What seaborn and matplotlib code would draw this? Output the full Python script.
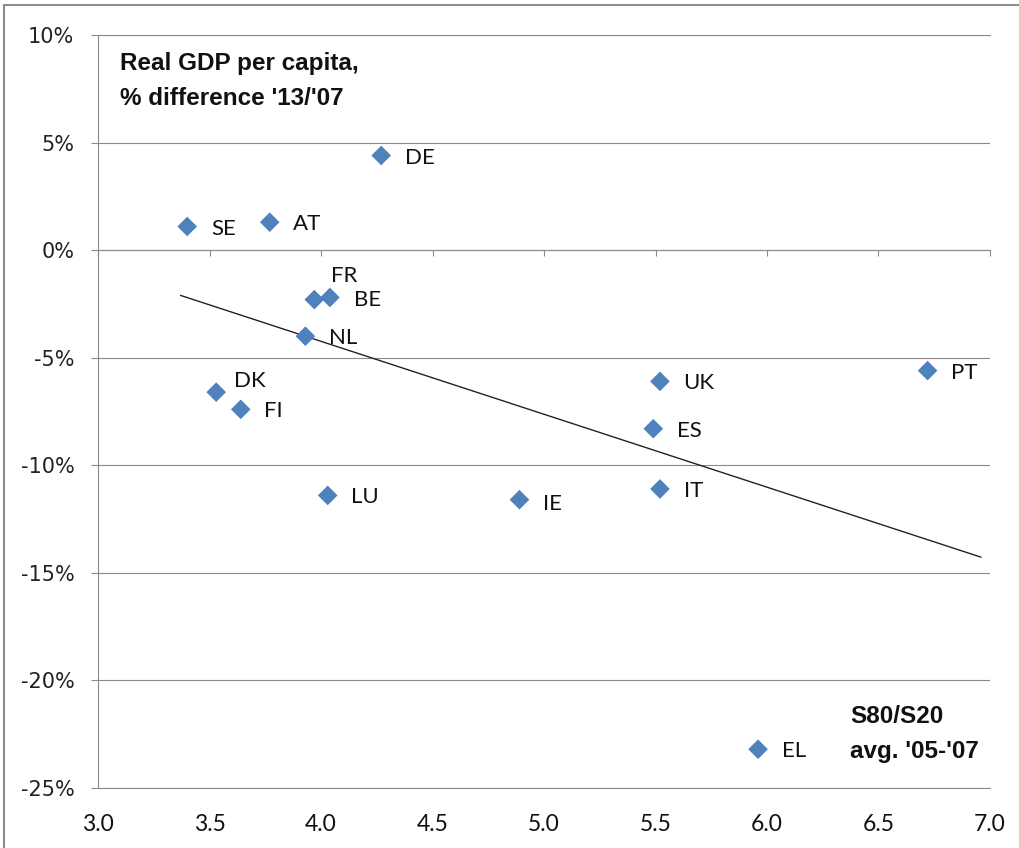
import numpy as np
import pandas as pd
import matplotlib
matplotlib.use('Agg')
import matplotlib.pyplot as plt
import seaborn as sns
from matplotlib.patches import Rectangle
from matplotlib.ticker import FuncFormatter

# data
countries = ['SE', 'AT', 'DE', 'FR', 'BE', 'NL', 'DK', 'FI',
             'LU', 'IE', 'UK', 'ES', 'IT', 'PT', 'EL']
s80_s20 = [3.40, 3.77, 4.27, 3.97, 4.04, 3.93, 3.53, 3.64,
           4.03, 4.89, 5.52, 5.49, 5.52, 6.72, 5.96]
gdp_diff = [1.1, 1.3, 4.4, -2.3, -2.2, -4.0, -6.6, -7.4,
            -11.4, -11.6, -6.1, -8.3, -11.1, -5.6, -23.2]

x_ticks = [3.0, 3.5, 4.0, 4.5, 5.0, 5.5, 6.0, 6.5, 7.0]
y_ticks = [-25, -20, -15, -10, -5, 0, 5, 10]
trend_x = [3.37, 6.96]  # extent of the Excel trendline

title_lines = ["Real GDP per capita,", "% difference '13/'07"]
xname_lines = ["S80/S20", "avg. '05-'07"]

df = pd.DataFrame({'country': countries, 'ineq': s80_s20, 'gdp': gdp_diff})

sns.set_style('white')
plt.rcParams['font.family'] = ['Lato', 'DejaVu Sans']
plt.rcParams['axes.unicode_minus'] = False

grid_c = '#8a8a8a'
blue = '#4F81BD'
txt_c = '#111111'

W, H = 1019, 848
fig = plt.figure(figsize=(W / 100, H / 100), dpi=100)
ax = fig.add_axes([98 / W, 1 - 788 / H, 892 / W, 753 / H])

# trendline (ordinary least squares, like Excel)
slope, intercept = np.polyfit(df['ineq'], df['gdp'], 1)
tx = np.array(trend_x)
ax.plot(tx, slope * tx + intercept, color='#222222', lw=1.0, zorder=2)

sns.scatterplot(data=df, x='ineq', y='gdp', marker='D', s=100,
                color=blue, edgecolor='none', ax=ax, zorder=3)

# point labels
offsets = {'FR': (12, 17), 'DK': (13, 8), 'IE': (17, -3)}
for c, xv, yv in zip(countries, s80_s20, gdp_diff):
    off = offsets.get(c, (17, -1.5))
    ax.annotate(c, (xv, yv), xytext=off, textcoords='offset points',
                ha='left', va='center', fontsize=16, color=txt_c)

ax.set_xlim(3.0, 7.0)
ax.set_ylim(-25, 10)
ax.set_xticks(x_ticks)
ax.set_yticks(y_ticks)
ax.xaxis.set_major_formatter(FuncFormatter(lambda v, p: f'{v:.1f}'))
ax.yaxis.set_major_formatter(FuncFormatter(lambda v, p: f'{v:.0f}%'))
ax.set_xlabel('')
ax.set_ylabel('')

ax.tick_params(axis='x', length=0, pad=19, labelsize=16.5, labelcolor=txt_c)
ax.tick_params(axis='y', left=True, direction='out', length=5, width=0.8,
               color=grid_c, pad=12, labelsize=15, labelcolor='#222222')
for lab in ax.get_yticklabels():
    lab.set_fontfamily('DejaVu Sans')

ax.yaxis.grid(True, color=grid_c, lw=0.8)
ax.xaxis.grid(False)
ax.spines['right'].set_visible(False)
for sp in ['left', 'top', 'bottom']:
    ax.spines[sp].set_color(grid_c)
    ax.spines[sp].set_linewidth(0.8)

# x axis line crossing at y = 0 with tick marks
sec = ax.secondary_xaxis((0 - y_ticks[0]) / (y_ticks[-1] - y_ticks[0]))
sec.set_alignment('bottom')
sec.set_xticks(x_ticks)
sec.set_xticklabels([])
sec.tick_params(axis='x', direction='out', length=4.5, width=0.8, color=grid_c)
for sp in sec.spines.values():
    sp.set_color(grid_c)
    sp.set_linewidth(0.8)

# axis titles placed inside the plot like the original
bold = dict(fontsize=17.5, fontweight='bold', family=['Liberation Sans', 'DejaVu Sans'],
            va='baseline', ha='left', color=txt_c, transform=ax.transAxes)
x0 = (120 - 98) / 892
ax.text(x0, (788 - 70) / 753, title_lines[0], **bold)
ax.text(x0, (788 - 105) / 753, title_lines[1], **bold)
x1 = (850 - 98) / 892
ax.text(x1, (788 - 723) / 753, xname_lines[0], **bold)
ax.text(x1, (788 - 758) / 753, xname_lines[1], **bold)

# chart frame
fig.patches.append(Rectangle((4 / W, -0.05), 1.1, 1 - 5 / H + 0.05,
                             transform=fig.transFigure, fill=False,
                             ec='#8c8c8c', lw=1.5))

fig.savefig('out.png', dpi=100)
